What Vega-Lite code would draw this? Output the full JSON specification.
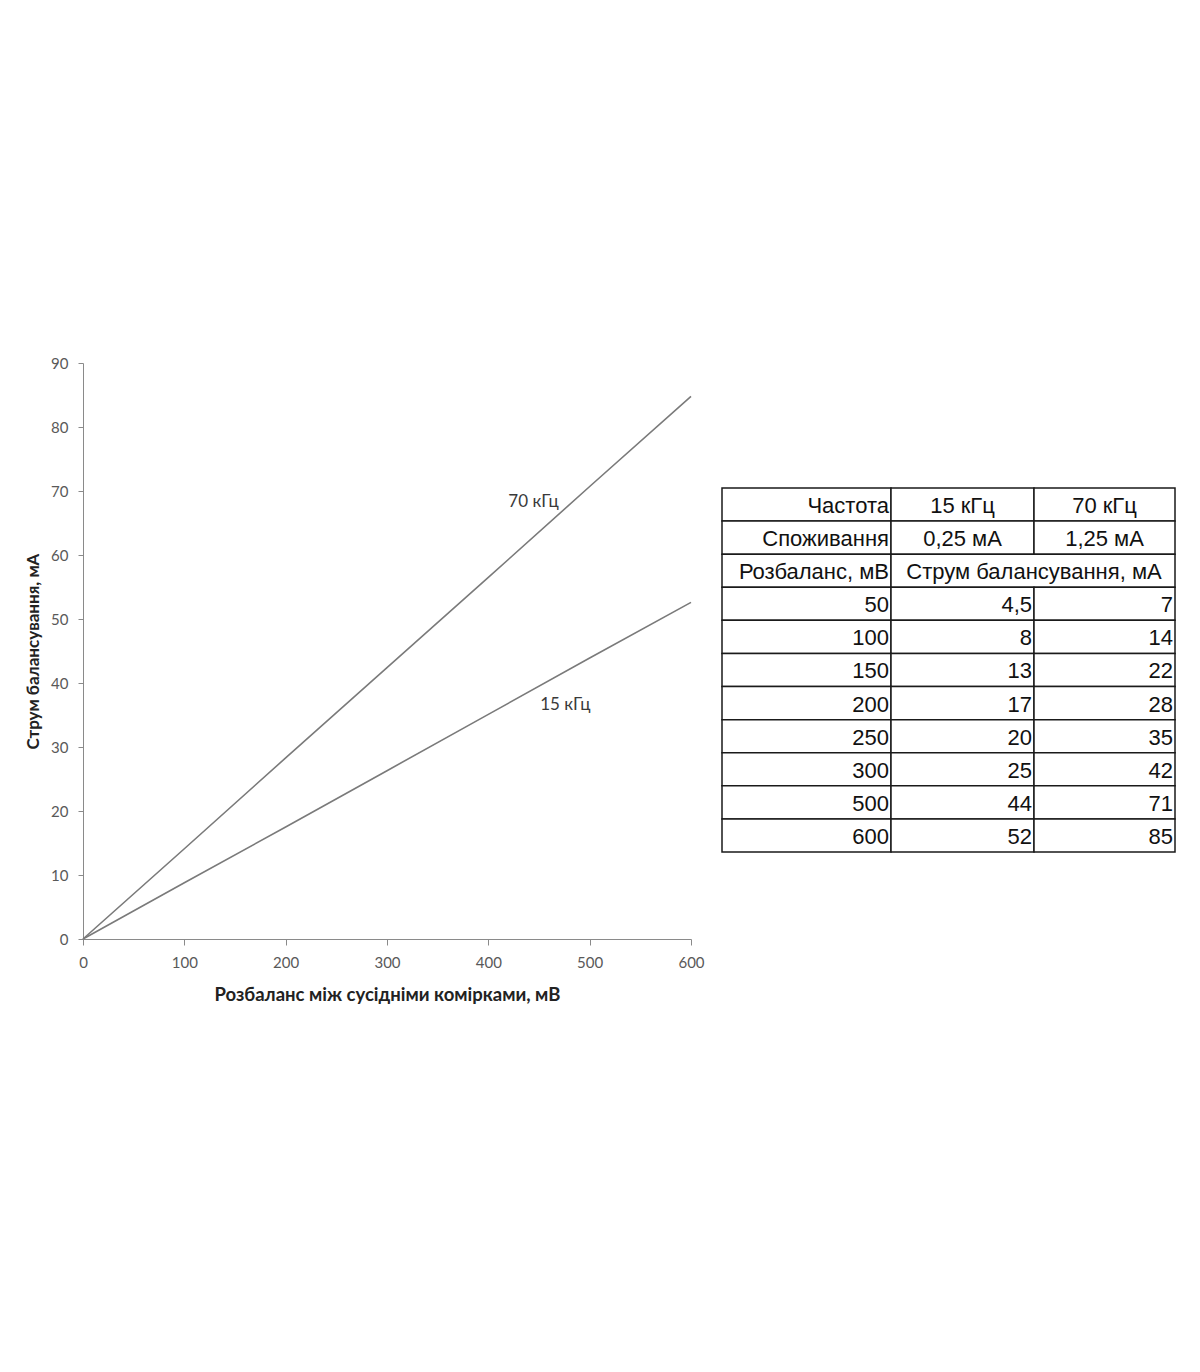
{
  "$schema": "https://vega.github.io/schema/vega-lite/v6.json",
  "background": "white",
  "padding": {"left": 24, "top": 356, "right": 5, "bottom": 5},
  "config": {"view": {"stroke": null}, "font": "Lato"},
  "datasets": {
    "curve": [
      {"mv": 0, "freq": "15 кГц", "ma": 0},
      {"mv": 100, "freq": "15 кГц", "ma": 8.8},
      {"mv": 200, "freq": "15 кГц", "ma": 17.5},
      {"mv": 300, "freq": "15 кГц", "ma": 26.3},
      {"mv": 400, "freq": "15 кГц", "ma": 35.1},
      {"mv": 500, "freq": "15 кГц", "ma": 43.9},
      {"mv": 600, "freq": "15 кГц", "ma": 52.6},
      {"mv": 0, "freq": "70 кГц", "ma": 0},
      {"mv": 100, "freq": "70 кГц", "ma": 14.1},
      {"mv": 200, "freq": "70 кГц", "ma": 28.3},
      {"mv": 300, "freq": "70 кГц", "ma": 42.4},
      {"mv": 400, "freq": "70 кГц", "ma": 56.5},
      {"mv": 500, "freq": "70 кГц", "ma": 70.7},
      {"mv": 600, "freq": "70 кГц", "ma": 84.8}
    ],
    "labels": [
      {"mv": 444.6, "ma": 68.3, "label": "70 кГц"},
      {"mv": 476, "ma": 36.6, "label": "15 кГц"}
    ],
    "cells": [
      {"row": 0, "c0": 0, "c1": 1, "text": "Частота"},
      {"row": 0, "c0": 1, "c1": 2, "text": "15 кГц"},
      {"row": 0, "c0": 2, "c1": 3, "text": "70 кГц"},
      {"row": 1, "c0": 0, "c1": 1, "text": "Споживання"},
      {"row": 1, "c0": 1, "c1": 2, "text": "0,25 мА"},
      {"row": 1, "c0": 2, "c1": 3, "text": "1,25 мА"},
      {"row": 2, "c0": 0, "c1": 1, "text": "Розбаланс, мВ"},
      {"row": 2, "c0": 1, "c1": 3, "text": "Струм балансування, мА"},
      {"row": 3, "c0": 0, "c1": 1, "text": "50"},
      {"row": 3, "c0": 1, "c1": 2, "text": "4,5"},
      {"row": 3, "c0": 2, "c1": 3, "text": "7"},
      {"row": 4, "c0": 0, "c1": 1, "text": "100"},
      {"row": 4, "c0": 1, "c1": 2, "text": "8"},
      {"row": 4, "c0": 2, "c1": 3, "text": "14"},
      {"row": 5, "c0": 0, "c1": 1, "text": "150"},
      {"row": 5, "c0": 1, "c1": 2, "text": "13"},
      {"row": 5, "c0": 2, "c1": 3, "text": "22"},
      {"row": 6, "c0": 0, "c1": 1, "text": "200"},
      {"row": 6, "c0": 1, "c1": 2, "text": "17"},
      {"row": 6, "c0": 2, "c1": 3, "text": "28"},
      {"row": 7, "c0": 0, "c1": 1, "text": "250"},
      {"row": 7, "c0": 1, "c1": 2, "text": "20"},
      {"row": 7, "c0": 2, "c1": 3, "text": "35"},
      {"row": 8, "c0": 0, "c1": 1, "text": "300"},
      {"row": 8, "c0": 1, "c1": 2, "text": "25"},
      {"row": 8, "c0": 2, "c1": 3, "text": "42"},
      {"row": 9, "c0": 0, "c1": 1, "text": "500"},
      {"row": 9, "c0": 1, "c1": 2, "text": "44"},
      {"row": 9, "c0": 2, "c1": 3, "text": "71"},
      {"row": 10, "c0": 0, "c1": 1, "text": "600"},
      {"row": 10, "c0": 1, "c1": 2, "text": "52"},
      {"row": 10, "c0": 2, "c1": 3, "text": "85"}
    ]
  },
  "spacing": 16,
  "hconcat": [
    {
      "width": 608,
      "height": 576,
      "layer": [
        {
          "data": {"name": "curve"},
          "mark": {"type": "line", "color": "#7a7a7a", "strokeWidth": 1.6},
          "encoding": {
            "x": {
              "field": "mv", "type": "quantitative",
              "scale": {"domain": [0, 600], "nice": false},
              "axis": {
                "title": "Розбаланс між сусідніми комірками, мВ",
                "values": [0, 100, 200, 300, 400, 500, 600],
                "grid": false, "labelFlush": false,
                "domainColor": "#8a8a8a", "tickColor": "#8a8a8a",
                "tickSize": 6, "labelPadding": 10,
                "labelFont": "Lato", "labelFontSize": 15, "labelColor": "#595959",
                "titleFont": "Lato", "titleFontSize": 18.5, "titleFontWeight": "bold",
                "titleColor": "#222222", "titlePadding": 15
              }
            },
            "y": {
              "field": "ma", "type": "quantitative",
              "scale": {"domain": [0, 90], "nice": false},
              "axis": {
                "title": "Струм балансування, мА",
                "values": [0, 10, 20, 30, 40, 50, 60, 70, 80, 90],
                "grid": false, "labelFlush": false,
                "domainColor": "#8a8a8a", "tickColor": "#8a8a8a",
                "tickSize": 5, "labelPadding": 10,
                "labelFont": "Lato", "labelFontSize": 15, "labelColor": "#595959",
                "titleFont": "Lato", "titleFontSize": 17, "titleFontWeight": "bold",
                "titleColor": "#222222", "titlePadding": 8
              }
            },
            "detail": {"field": "freq"}
          }
        },
        {
          "data": {"name": "labels"},
          "mark": {"type": "text", "font": "Lato", "fontSize": 17, "color": "#3a3a3a", "baseline": "middle", "align": "center"},
          "encoding": {
            "x": {"field": "mv", "type": "quantitative"},
            "y": {"field": "ma", "type": "quantitative"},
            "text": {"field": "label"}
          }
        }
      ]
    },
    {
      "width": 453,
      "height": 576,
      "data": {"name": "cells"},
      "transform": [
        {"calculate": "datum.row + 1", "as": "rowEnd"},
        {"calculate": "(datum.c0 + datum.c1) / 2", "as": "mid"}
      ],
      "layer": [
        {
          "mark": {"type": "rect", "fill": "white", "stroke": "#1a1a1a", "strokeWidth": 1.5},
          "encoding": {
            "x": {"field": "c0", "type": "quantitative", "axis": null,
                  "scale": {"domain": [0, 1, 2, 3], "range": [0, 169, 312, 453], "nice": false, "zero": false}},
            "x2": {"field": "c1"},
            "y": {"field": "row", "type": "quantitative", "axis": null,
                  "scale": {"domain": [0, 11], "range": [125, 489], "nice": false, "zero": false}},
            "y2": {"field": "rowEnd"}
          }
        },
        {
          "transform": [{"filter": "datum.row >= 3 || datum.c0 == 0"}],
          "mark": {"type": "text", "font": "Liberation Sans", "fontSize": 22, "color": "#111111", "align": "right", "baseline": "alphabetic", "dx": -2, "dy": 25},
          "encoding": {
            "x": {"field": "c1", "type": "quantitative"},
            "y": {"field": "row", "type": "quantitative"},
            "text": {"field": "text"}
          }
        },
        {
          "transform": [{"filter": "datum.row < 3 && datum.c0 >= 1"}],
          "mark": {"type": "text", "font": "Liberation Sans", "fontSize": 22, "color": "#111111", "align": "center", "baseline": "alphabetic", "dy": 25},
          "encoding": {
            "x": {"field": "mid", "type": "quantitative"},
            "y": {"field": "row", "type": "quantitative"},
            "text": {"field": "text"}
          }
        }
      ]
    }
  ]
}
